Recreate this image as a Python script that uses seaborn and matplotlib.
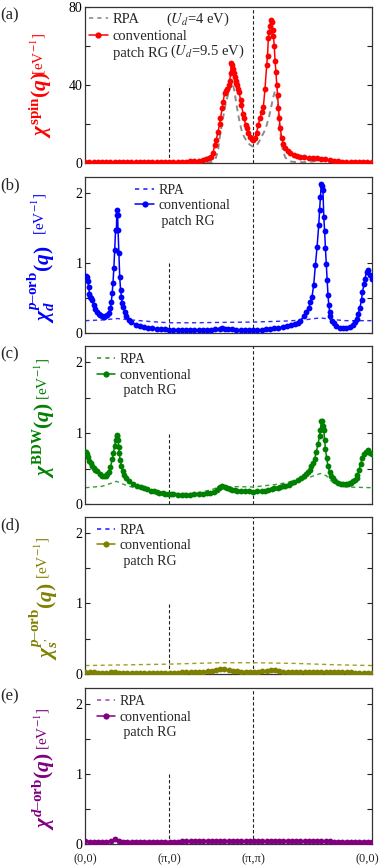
import numpy as np
import pandas as pd
import matplotlib
matplotlib.use("Agg")
import matplotlib.pyplot as plt
from matplotlib.lines import Line2D
import seaborn as sns

# ---------------- data (q path in units of pi: (0,0)->(pi,0)->(pi,pi)->(0,0)) ----------------
SQ2 = float(np.sqrt(2.0))
hs_pos = [0.0, 1.0, 2.0, 2.0 + SQ2]
hs_labels = ["(0,0)", "(π,0)", "(π,π)", "(0,0)"]

# (a) spin susceptibility
a_rg_q = [0.00, 0.05, 0.10, 0.15, 0.20, 0.25, 0.30, 0.35, 0.40, 0.45, 0.50, 0.55, 0.60, 0.65, 0.70,
          0.75, 0.80, 0.85, 0.90, 0.95, 1.00, 1.05, 1.10, 1.15, 1.20, 1.25, 1.30, 1.35, 1.40,
          1.44, 1.47, 1.50, 1.52, 1.54, 1.56, 1.58, 1.60,
          1.61, 1.63, 1.64, 1.66, 1.68, 1.69, 1.71, 1.72, 1.73, 1.74,
          1.75, 1.76, 1.77, 1.78, 1.79, 1.80, 1.81, 1.82, 1.83,
          1.85, 1.86, 1.88, 1.89, 1.91, 1.92, 1.94, 1.96, 1.98, 2.00,
          2.02, 2.04, 2.06, 2.08, 2.10, 2.12, 2.14, 2.16, 2.17, 2.18,
          2.19, 2.20, 2.21, 2.22, 2.23, 2.24, 2.25, 2.26, 2.27, 2.28,
          2.29, 2.30, 2.31, 2.32, 2.34, 2.36, 2.38, 2.41, 2.44, 2.48,
          2.52, 2.56, 2.61, 2.66, 2.71, 2.76, 2.81, 2.86, 2.91, 2.96,
          3.01, 3.06, 3.11, 3.16, 3.21, 3.26, 3.31, 3.36, 3.414]
a_rg_chi = [0.3, 0.3, 0.3, 0.3, 0.3, 0.3, 0.35, 0.35, 0.35, 0.4, 0.4, 0.4, 0.4, 0.45, 0.45,
            0.45, 0.5, 0.5, 0.5, 0.5, 0.55, 0.6, 0.6, 0.65, 0.7, 0.8, 1.0, 1.2, 1.5,
            2.0, 2.5, 3.0, 5.0, 9.0, 12.0, 16.0, 20.0,
            23.0, 28.0, 31.0, 36.0, 37.0, 38.0, 40.0, 42.0, 46.0, 51.0,
            50.0, 48.0, 46.0, 44.0, 42.0, 41.0, 40.0, 38.0, 36.5,
            32.0, 29.7, 25.0, 23.0, 19.5, 17.8, 15.5, 13.5, 12.2, 11.8,
            12.6, 15.5, 19.4, 23.0, 26.0, 28.5, 38.0, 50.0, 55.0, 64.0,
            67.0, 70.0, 73.0, 72.0, 68.0, 65.0, 60.0, 52.0, 46.7, 40.0,
            34.8, 28.0, 23.0, 18.0, 12.6, 9.5, 7.5, 6.0, 5.0, 4.3,
            3.8, 3.3, 3.0, 2.8, 2.6, 2.5, 2.3, 2.0, 1.5, 1.1,
            0.9, 0.7, 0.6, 0.5, 0.4, 0.35, 0.3, 0.3, 0.3]
a_rpa_q = [0.0, 0.5, 1.0, 1.4, 1.50, 1.55, 1.58, 1.60, 1.62, 1.64, 1.66, 1.68, 1.70, 1.72,
           1.74, 1.75, 1.76, 1.78, 1.80, 1.82, 1.84, 1.86, 1.89, 1.92,
           1.96, 2.00, 2.04, 2.07, 2.10, 2.13, 2.16, 2.19, 2.22, 2.24,
           2.26, 2.27, 2.29, 2.30, 2.31, 2.33, 2.34, 2.36, 2.38, 2.41,
           2.44, 2.50, 2.60, 2.70, 2.76, 2.80, 2.83, 2.87, 2.92, 3.00,
           3.10, 3.25, 3.414]
a_rpa_chi = [0.0, 0.0, 0.0, 0.1, 0.4, 2.0, 6.0, 12.8, 18.0, 23.0, 28.0, 32.0, 35.0, 37.5,
             40.0, 41.0, 40.0, 35.6, 30.0, 25.0, 20.5, 17.0, 13.5, 11.3,
             9.3, 8.3, 9.0, 11.0, 13.5, 16.0, 19.4, 24.0, 30.0, 34.0,
             37.0, 36.0, 31.5, 26.0, 19.4, 13.0, 9.0, 5.5, 3.0, 1.5,
             0.8, 0.5, 0.4, 0.7, 1.2, 1.7, 2.0, 1.5, 0.8, 0.3,
             0.1, 0.0, 0.0]

# (b) p-orbital (d-wave form factor) susceptibility
b_rg_q = [0.00, 0.01, 0.02, 0.03, 0.04, 0.05, 0.06, 0.07, 0.08,
          0.10, 0.12, 0.14, 0.16, 0.18, 0.20, 0.22, 0.24, 0.26, 0.28, 0.30,
          0.31, 0.32, 0.33, 0.34, 0.35, 0.36, 0.37, 0.375, 0.38, 0.385, 0.39, 0.40, 0.41, 0.42, 0.43, 0.44, 0.45,
          0.47, 0.49, 0.52, 0.55,
          0.60, 0.65, 0.70, 0.75, 0.80, 0.85, 0.90, 0.95, 1.00, 1.05, 1.10, 1.15, 1.20, 1.25, 1.30, 1.35,
          1.40, 1.45, 1.50, 1.55, 1.60,
          1.63, 1.66,
          1.70, 1.75, 1.80, 1.85, 1.90, 1.95, 2.00, 2.05, 2.10, 2.15, 2.20, 2.25, 2.30, 2.35, 2.40, 2.45, 2.50,
          2.53, 2.56, 2.60, 2.63, 2.66, 2.68, 2.70, 2.72, 2.74, 2.76, 2.78, 2.79,
          2.80, 2.81, 2.82, 2.83, 2.84, 2.85, 2.86, 2.87, 2.88, 2.89, 2.90, 2.91, 2.92,
          2.94, 2.96, 2.99, 3.03, 3.07, 3.11, 3.15, 3.19,
          3.21, 3.23, 3.25, 3.27, 3.29, 3.30, 3.32, 3.33, 3.35, 3.37, 3.39, 3.414]
b_rg_chi = [0.82, 0.82, 0.80, 0.74, 0.66, 0.56, 0.52, 0.50, 0.47,
            0.40, 0.35, 0.31, 0.28, 0.26, 0.24, 0.23, 0.24, 0.26, 0.29, 0.36,
            0.45, 0.57, 0.72, 0.93, 1.18, 1.47, 1.47, 1.68, 1.75, 1.68, 1.47, 1.14, 0.80, 0.62, 0.52, 0.43, 0.38,
            0.30, 0.24, 0.19, 0.155,
            0.125, 0.105, 0.09, 0.08, 0.07, 0.065, 0.06, 0.055, 0.05, 0.045, 0.045, 0.04, 0.04, 0.04, 0.04, 0.04,
            0.045, 0.045, 0.05, 0.055, 0.065,
            0.07, 0.065,
            0.06, 0.055, 0.05, 0.045, 0.04, 0.04, 0.04, 0.045, 0.05, 0.055, 0.06, 0.07, 0.08, 0.09, 0.10, 0.115, 0.13,
            0.15, 0.18, 0.24, 0.30, 0.36, 0.44, 0.52, 0.69, 0.97, 1.23, 1.54, 1.75,
            1.94, 2.12, 2.10, 2.04, 1.66, 1.45, 1.21, 0.98, 0.76, 0.55, 0.40, 0.30, 0.24,
            0.18, 0.14, 0.11, 0.08, 0.07, 0.07, 0.09, 0.12,
            0.16, 0.21, 0.28, 0.36, 0.48, 0.59, 0.70, 0.78, 0.88, 0.90, 0.83, 0.78]
b_rpa_q = [0.0, 0.2, 0.38, 0.6, 0.8, 1.0, 1.3, 1.6, 2.0, 2.4, 2.6, 2.8, 2.95, 3.1, 3.414]
b_rpa_chi = [0.18, 0.19, 0.21, 0.185, 0.165, 0.15, 0.15, 0.155, 0.16, 0.175, 0.19, 0.22, 0.195, 0.18, 0.18]

# (c) bond-density-wave susceptibility
c_rg_q = [0.00, 0.01, 0.02, 0.03, 0.05, 0.064, 0.08, 0.10, 0.12, 0.143,
          0.17, 0.20, 0.22, 0.243, 0.26, 0.28, 0.30, 0.32, 0.335, 0.35,
          0.36, 0.374, 0.38, 0.39, 0.40, 0.405, 0.415, 0.43, 0.445, 0.46,
          0.49, 0.52, 0.57, 0.62, 0.66, 0.70, 0.74, 0.78, 0.82, 0.85,
          0.88, 0.92, 0.95, 0.98, 1.02, 1.05, 1.10, 1.15, 1.20, 1.25,
          1.30, 1.35, 1.40, 1.45, 1.49, 1.53, 1.57, 1.59, 1.61, 1.63,
          1.66, 1.69, 1.72, 1.75, 1.78, 1.81, 1.85, 1.90, 1.95, 2.00,
          2.05, 2.10, 2.14, 2.18, 2.22, 2.25, 2.29, 2.32, 2.35, 2.38,
          2.42, 2.45, 2.49, 2.53, 2.57, 2.60, 2.63, 2.65, 2.67, 2.69,
          2.71, 2.73, 2.75, 2.77, 2.79, 2.80, 2.81, 2.82, 2.83, 2.84,
          2.85, 2.86, 2.875, 2.89, 2.91, 2.93, 2.95, 2.97, 3.01, 3.04,
          3.07, 3.10, 3.13, 3.15, 3.17, 3.19, 3.21, 3.23, 3.24, 3.26,
          3.28, 3.30, 3.32, 3.34, 3.37, 3.39, 3.414]
c_rg_chi = [0.74, 0.74, 0.70, 0.67, 0.61, 0.58, 0.54, 0.51, 0.48, 0.46,
            0.43, 0.40, 0.395, 0.40, 0.42, 0.45, 0.52, 0.63, 0.72, 0.82,
            0.90, 0.98, 0.96, 0.91, 0.80, 0.72, 0.62, 0.53, 0.46, 0.41,
            0.36, 0.32, 0.28, 0.25, 0.235, 0.22, 0.205, 0.19, 0.18, 0.17,
            0.16, 0.15, 0.145, 0.14, 0.135, 0.135, 0.13, 0.13, 0.13, 0.13,
            0.135, 0.135, 0.14, 0.15, 0.16, 0.175, 0.20, 0.22, 0.24, 0.256,
            0.24, 0.22, 0.21, 0.20, 0.195, 0.19, 0.185, 0.18, 0.178, 0.175,
            0.178, 0.185, 0.19, 0.20, 0.21, 0.22, 0.23, 0.24, 0.25, 0.256,
            0.275, 0.29, 0.315, 0.34, 0.37, 0.40, 0.43, 0.45, 0.48, 0.53,
            0.58, 0.63, 0.73, 0.84, 0.96, 1.05, 1.17, 1.17, 1.10, 1.05,
            0.90, 0.77, 0.65, 0.53, 0.45, 0.39, 0.36, 0.33, 0.29, 0.285,
            0.28, 0.28, 0.28, 0.29, 0.30, 0.32, 0.34, 0.37, 0.41, 0.48,
            0.57, 0.65, 0.70, 0.74, 0.76, 0.72, 0.70]
c_rpa_q = [0.0, 0.2, 0.3, 0.37, 0.45, 0.55, 0.8, 1.0, 1.3, 1.5, 1.6, 1.8, 2.0, 2.3, 2.6, 2.8, 2.87, 2.95, 3.1, 3.414]
c_rpa_chi = [0.23, 0.25, 0.29, 0.32, 0.28, 0.24, 0.19, 0.15, 0.15, 0.2, 0.245, 0.245, 0.24, 0.28, 0.35, 0.43, 0.40,
             0.30, 0.24, 0.23]

# (d) p-orbital (s'-wave form factor) susceptibility, on a uniform q grid of 69 points
d_rg_chi = [0.03, 0.03, 0.025, 0.02, 0.02, 0.02, 0.025, 0.025, 0.02, 0.02,
            0.02, 0.02, 0.02, 0.02, 0.02, 0.02, 0.02, 0.02, 0.02, 0.02,
            0.02, 0.02, 0.02, 0.025, 0.025, 0.025, 0.03, 0.03, 0.035, 0.04,
            0.045, 0.055, 0.065, 0.07, 0.055, 0.045, 0.04, 0.035, 0.035, 0.035,
            0.035, 0.035, 0.04, 0.045, 0.055, 0.06, 0.045, 0.035, 0.03, 0.03,
            0.025, 0.025, 0.025, 0.025, 0.025, 0.025, 0.025, 0.025, 0.025, 0.025,
            0.025, 0.025, 0.025, 0.025, 0.02, 0.02, 0.02, 0.02, 0.02]
d_rpa_q = [0.0, 1.0, 1.6, 2.0, 2.5, 3.0, 3.414]
d_rpa_chi = [0.12, 0.14, 0.16, 0.16, 0.15, 0.13, 0.12]

# (e) d-orbital susceptibility, uniform q grid of 69 points
e_rg_chi = [0.04, 0.035, 0.03, 0.03, 0.03, 0.035, 0.045, 0.07, 0.05, 0.035,
            0.035, 0.035, 0.035, 0.035, 0.035, 0.035, 0.035, 0.035, 0.035, 0.035,
            0.035, 0.035, 0.035, 0.04, 0.04, 0.04, 0.04, 0.04, 0.045, 0.045,
            0.045, 0.045, 0.045, 0.045, 0.045, 0.045, 0.045, 0.045, 0.045, 0.045,
            0.045, 0.045, 0.045, 0.045, 0.045, 0.045, 0.045, 0.045, 0.045, 0.045,
            0.045, 0.045, 0.045, 0.045, 0.045, 0.04, 0.04, 0.04, 0.04, 0.035,
            0.035, 0.035, 0.035, 0.03, 0.03, 0.03, 0.025, 0.025, 0.025]
e_rpa_q = [0.0, 1.0, 2.0, 3.0, 3.414]
e_rpa_chi = [0.045, 0.04, 0.05, 0.045, 0.045]

grid_q = np.linspace(0.0, 2.0 + SQ2, len(d_rg_chi))

# ---------------- style ----------------
sns.set_style("ticks")
plt.rcParams["font.family"] = ["Liberation Serif", "DejaVu Serif"]
plt.rcParams["mathtext.fontset"] = "stix"
plt.rcParams["mathtext.rm"] = "Liberation Serif:bold"
plt.rcParams["mathtext.it"] = "Liberation Serif:italic:bold"
plt.rcParams["mathtext.bf"] = "Liberation Serif:bold"

W, H = 382, 867
fig = plt.figure(figsize=(W / 100, H / 100), dpi=100)

LEFT_PX, RIGHT_PX = 85.3, 372.0
panels = [
    dict(letter="(a)", top=6.7, bot=163.0, ylim=(0, 80), yt=[0, 20, 40, 60, 80], ytl=["0", "", "40", "", "80"],
         rg=(a_rg_q, a_rg_chi), rpa=(a_rpa_q, a_rpa_chi), col="#ff0000", rpacol="#8c8c8c", legcol="#8c8c8c",
         vh=40, chi=r"$\chi^{\mathrm{spin}}(q)$", chix=41, chib=138, chis=15.5, evx=38.5, evt=33,
         leg=(0.012, 0.958), indent="", lsp=0.26),
    dict(letter="(b)", top=176.7, bot=333.3, ylim=(0, 2.23), yt=[0, 0.5, 1, 1.5, 2], ytl=["0", "", "1", "", "2"],
         rg=(b_rg_q, b_rg_chi), rpa=(b_rpa_q, b_rpa_chi), col="#0000ff", rpacol="#2a2aff", legcol="#2a2aff",
         vh=1.0, chi=r"$\chi_{d}^{p\mathrm{–orb}}(q)$", chix=41, chib=323, chis=15.5, evx=39, evt=193,
         leg=(0.175, 0.955), indent=" ", lsp=0.18),
    dict(letter="(c)", top=346.0, bot=504.0, ylim=(0, 2.23), yt=[0, 0.5, 1, 1.5, 2], ytl=["0", "", "1", "", "2"],
         rg=(c_rg_q, c_rg_chi), rpa=(c_rpa_q, c_rpa_chi), col="#008000", rpacol="#3a9a3a", legcol="#3a9a3a",
         vh=1.0, chi=r"$\chi^{\mathrm{BDW}}(q)$", chix=44, chib=478, chis=15.5, evx=42.5, evt=358,
         leg=(0.04, 0.955), indent=" ", lsp=0.18),
    dict(letter="(d)", top=516.7, bot=674.0, ylim=(0, 2.23), yt=[0, 0.5, 1, 1.5, 2], ytl=["0", "", "1", "", "2"],
         rg=(grid_q, d_rg_chi), rpa=(d_rpa_q, d_rpa_chi), col="#808000", rpacol="#a0a020", legcol="#2a2aff",
         vh=1.0, chi=r"$\chi_{s'}^{p\mathrm{–orb}}(q)$", chix=44, chib=660, chis=15.5, evx=42, evt=537,
         leg=(0.04, 0.955), indent=" ", lsp=0.18),
    dict(letter="(e)", top=688.3, bot=844.0, ylim=(0, 2.23), yt=[0, 0.5, 1, 1.5, 2], ytl=["0", "", "1", "", "2"],
         rg=(grid_q, e_rg_chi), rpa=(e_rpa_q, e_rpa_chi), col="#800080", rpacol="#b050b0", legcol="#b050b0",
         vh=1.0, chi=r"$\chi^{d\mathrm{–orb}}(q)$", chix=44, chib=830, chis=15.5, evx=42, evt=708,
         leg=(0.04, 0.955), indent=" ", lsp=0.18),
]

for i, p in enumerate(panels):
    ax = fig.add_axes([LEFT_PX / W, 1 - p["bot"] / H, (RIGHT_PX - LEFT_PX) / W, (p["bot"] - p["top"]) / H])
    # reference lines at high-symmetry points
    ax.vlines(hs_pos[1], 0, p["vh"], colors="#222222", linestyles=(0, (3, 2)), lw=0.8, zorder=1.5)
    ax.axvline(hs_pos[2], color="#222222", ls=(0, (3, 2)), lw=0.8, zorder=1.5)

    rpa_df = pd.DataFrame({"q": p["rpa"][0], "chi": p["rpa"][1]})
    sns.lineplot(data=rpa_df, x="q", y="chi", ax=ax, color=p["rpacol"], lw=1.4 if i == 0 else 1.0,
                 estimator=None, sort=False, zorder=2)
    ax.lines[-1].set_dashes((3, 2.2) if i == 0 else (3, 2.5))

    rg_df = pd.DataFrame({"q": p["rg"][0], "chi": p["rg"][1]})
    sns.lineplot(data=rg_df, x="q", y="chi", ax=ax, color=p["col"], lw=1.1, marker="o", markersize=4.2,
                 markeredgewidth=0, estimator=None, sort=False, zorder=3)

    ax.set_xlim(hs_pos[0], hs_pos[-1])
    ax.set_ylim(*p["ylim"])
    ax.set_yticks(p["yt"])
    ax.set_yticklabels(p["ytl"], fontsize=10)
    ax.set_xticks(hs_pos)
    ax.set_xticklabels([])
    if i == len(panels) - 1:
        # high-symmetry point labels under the last panel (last one nudged inside the figure)
        for k, (qpos, lab) in enumerate(zip(hs_pos, hs_labels)):
            dx = -3.5 if k == len(hs_pos) - 1 else 0
            ax.annotate(lab, xy=(qpos, 0), xycoords=("data", "axes fraction"), xytext=(dx, -6.5),
                        textcoords="offset points", ha="center", va="top", fontsize=9, annotation_clip=False)
    ax.set_xlabel("")
    ax.set_ylabel("")
    ax.tick_params(axis="y", direction="in", length=3.5, width=0.8, left=True, right=True, pad=2, colors="#222222",
                   labelcolor="black")
    ax.tick_params(axis="x", length=0, pad=5, labelcolor="black")
    for s in ax.spines.values():
        s.set_visible(True)
        s.set_linewidth(0.9)
        s.set_color("#333333")

    # legend
    h_rpa = Line2D([], [], color=p["legcol"], lw=1.2, dashes=(2.5, 2.5))
    h_rg = Line2D([], [], color=p["col"], lw=1.1, marker="o", markersize=4.5, markeredgewidth=0)
    h_blank = Line2D([], [], color="none")
    fs_leg = 10.5 if i == 0 else 10
    ax.legend([h_rpa, h_rg, h_blank], ["RPA", "conventional", p["indent"] + "patch RG"],
              loc="upper left", bbox_to_anchor=p["leg"], frameon=False, fontsize=fs_leg,
              handlelength=1.3, handletextpad=0.35, labelspacing=p["lsp"], borderaxespad=0, borderpad=0)
    if i == 0:
        ax.text(0.281, 0.918, r"($U_d$=4 eV)", transform=ax.transAxes, fontsize=10.5, va="center", ha="left")
        ax.text(0.296, 0.715, r"($U_d$=9.5 eV)", transform=ax.transAxes, fontsize=10.5, va="center", ha="left")

    # panel letter
    fig.text(0.0, 1 - (p["top"] + 0.5) / H, p["letter"], fontsize=12, ha="left", va="top")
    # y labels (two parts)
    fig.text(p["chix"] / W, 1 - p["chib"] / H, p["chi"], rotation=90, ha="center", va="bottom",
             fontsize=p["chis"], color=p["col"], math_fontfamily="custom")
    fig.text(p["evx"] / W, 1 - p["evt"] / H, "[eV$^{-1}$]", rotation=90, ha="center", va="top",
             fontsize=11, color=p["col"], math_fontfamily="stix")

fig.savefig("out.png", dpi=100)
